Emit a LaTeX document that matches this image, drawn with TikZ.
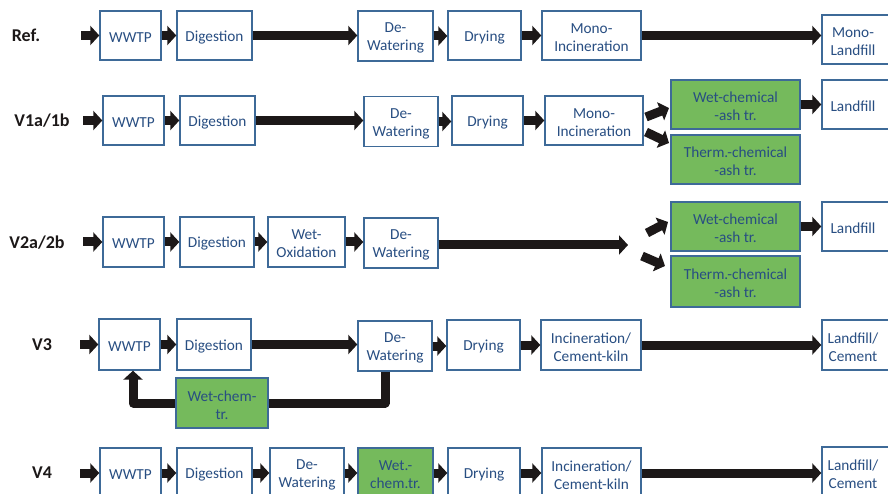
\documentclass[tikz,border=0pt]{standalone}
\usepackage{fontspec}
\setmainfont{Carlito}
\usetikzlibrary{arrows.meta}
\definecolor{bxline}{RGB}{62,106,152}
\definecolor{bxtext}{RGB}{40,78,130}
\definecolor{grn}{RGB}{117,186,92}
\definecolor{arr}{RGB}{28,24,24}
\newcommand\dn[1]{\raisebox{-2pt}[\height][\depth]{#1}}
\newcommand\rl[1]{\hspace*{-6pt}\dn{#1}}
\begin{document}
\begin{tikzpicture}[x=1pt,y=-1pt,
 box/.style={draw=bxline, line width=1.4pt, fill=white, text=bxtext, font=\fontsize{15.3}{18}\selectfont, align=center, inner sep=0pt, minimum height=49pt},
 gbox/.style={box, fill=grn},
 lab/.style={font=\fontsize{18}{21}\selectfont\bfseries, text=arr, inner sep=0pt},
 ar/.style={draw=arr, line width=9pt, -{Triangle[length=9pt,width=19pt]}},
 fb/.style={draw=arr, line width=9pt, line join=round}]
\useasboundingbox (0,0) rectangle (888,494);
\clip (0,0) rectangle (888,494);
\fill[white] (0,0) rectangle (888,494);

% ---------- Ref ----------
\node[lab] (lref) at (26,35) {Ref.};
\coordinate (r0) at (81,35.5);
\node[box,minimum width=61pt] (rW) at (130.5,35.5) {\dn{WWTP}};
\node[box,minimum width=75pt] (rD) at (214.5,35.5) {\dn{Digestion}};
\node[box,minimum width=75pt,minimum height=50pt] (rDW) at (395.5,36) {\dn{De-}\\\dn{Watering}};
\node[box,minimum width=73pt] (rDr) at (484.5,35.5) {\dn{Drying}};
\node[box,minimum width=99pt] (rM) at (591.5,35.5) {\dn{Mono-}\\\dn{Incineration}};
\node[box,minimum width=68pt] (rL) at (856,39.5) {\rl{Mono-}\\\rl{Landfill}};
\draw[ar] (r0) -- (rW.west);
\draw[ar] (rW.east) -- (rD.west);
\draw[ar] (rD.east) -- (rD.east -| rDW.west);
\draw[ar] (rDW.east) -- (rDW.east -| rDr.west);
\draw[ar] (rDr.east) -- (rM.west);
\draw[ar] (rM.east) -- (rM.east -| rL.west);

% ---------- V1a/1b ----------
\node[lab] (l1) at (42,121) {V1a/1b};
\coordinate (v10) at (83,120.5);
\node[box,minimum width=61pt] (v1W) at (133.5,120.5) {\dn{WWTP}};
\node[box,minimum width=75pt] (v1D) at (217.5,120.5) {\dn{Digestion}};
\node[box,minimum width=74pt,minimum height=50pt] (v1DW) at (401,121.5) {\dn{De-}\\\dn{Watering}};
\node[box,minimum width=71pt] (v1Dr) at (487.5,120.5) {\dn{Drying}};
\node[box,minimum width=98pt] (v1M) at (594,120.5) {\dn{Mono-}\\\dn{Incineration}};
\node[gbox,minimum width=129pt] (v1WC) at (735.5,104.5) {\dn{Wet-chemical}\\\dn{-ash tr.}};
\node[gbox,minimum width=129pt] (v1TC) at (735.5,159.5) {\dn{Therm.-chemical}\\\dn{-ash tr.}};
\node[box,minimum width=68pt] (v1L) at (856,104.5) {\rl{Landfill}};
\coordinate (v1a1) at (646,117);
\coordinate (v1a2) at (669,108);
\coordinate (v1b1) at (646,132);
\coordinate (v1b2) at (669,143);
\draw[ar] (v10) -- (v1W.west);
\draw[ar] (v1W.east) -- (v1D.west);
\draw[ar] (v1D.east) -- (v1D.east -| v1DW.west);
\draw[ar] (v1DW.east) -- (v1DW.east -| v1Dr.west);
\draw[ar] (v1Dr.east) -- (v1M.west);
\draw[ar] (v1a1) -- (v1a2);
\draw[ar] (v1b1) -- (v1b2);
\draw[ar] (v1WC.east) -- (v1L.west);

% ---------- V2a/2b ----------
\node[lab] (l2) at (37,243) {V2a/2b};
\coordinate (v20) at (83,242);
\node[box,minimum width=61pt,minimum height=50pt] (v2W) at (133.5,242) {\dn{WWTP}};
\node[box,minimum width=74pt,minimum height=50pt] (v2D) at (217,242) {\dn{Digestion}};
\node[box,minimum width=77pt,minimum height=50pt] (v2WO) at (306.5,242) {\dn{Wet-}\\\dn{Oxidation}};
\node[box,minimum width=74pt,minimum height=50pt] (v2DW) at (401,243) {\dn{De-}\\\dn{Watering}};
\coordinate (v2e) at (628,242);
\node[gbox,minimum width=129pt] (v2WC) at (735.5,226.5) {\dn{Wet-chemical}\\\dn{-ash tr.}};
\node[gbox,minimum width=129pt,minimum height=51pt] (v2TC) at (735.5,281.5) {\dn{Therm.-chemical}\\\dn{-ash tr.}};
\node[box,minimum width=68pt] (v2L) at (856,226.5) {\rl{Landfill}};
\coordinate (v2a1) at (647,233);
\coordinate (v2a2) at (668,222);
\coordinate (v2b1) at (642,256);
\coordinate (v2b2) at (665,266);
\draw[ar] (v20) -- (v2W.west);
\draw[ar] (v2W.east) -- (v2D.west);
\draw[ar] (v2D.east) -- (v2WO.west);
\draw[ar] (v2WO.east) -- (v2WO.east -| v2DW.west);
\draw[ar] ([yshift=-2pt]v2DW.east) -- ([yshift=-2pt]v2DW.east -| v2e);
\draw[ar] (v2a1) -- (v2a2);
\draw[ar] (v2b1) -- (v2b2);
\draw[ar] (v2WC.east) -- (v2L.west);

% ---------- V3 ----------
\node[lab] (l3) at (42,345) {V3};
\coordinate (v30) at (80,344.5);
\node[box,minimum width=61pt,minimum height=51pt] (v3W) at (129.5,344.5) {\dn{WWTP}};
\node[box,minimum width=74pt,minimum height=51pt] (v3D) at (214,344.5) {\dn{Digestion}};
\node[box,minimum width=74pt,minimum height=50pt] (v3DW) at (395,346) {\dn{De-}\\\dn{Watering}};
\node[box,minimum width=73pt,minimum height=50pt] (v3Dr) at (483.5,345) {\dn{Drying}};
\node[box,minimum width=100pt,minimum height=50pt] (v3I) at (591,345) {\dn{Incineration/}\\\dn{Cement-kiln}};
\node[box,minimum width=68pt,minimum height=50pt] (v3L) at (856,345) {\rl{Landfill/}\\\rl{Cement}};
\node[gbox,minimum width=92pt,minimum height=50pt] (v3WC) at (222,403) {\dn{Wet-chem-}\\\dn{tr.}};
\draw[ar] (v30) -- (v3W.west);
\draw[ar] (v3W.east) -- (v3D.west);
\draw[ar] (v3D.east) -- (v3D.east -| v3DW.west);
\draw[ar] (v3DW.east) -- (v3DW.east -| v3Dr.west);
\draw[ar] (v3Dr.east) -- (v3I.west);
\draw[ar] (v3I.east) -- (v3I.east -| v3L.west);
\draw[fb] ([xshift=-10pt]v3DW.south) |- (v3WC.east);
\draw[fb,-{Triangle[length=9pt,width=19pt]}] (v3WC.west) -| ([xshift=3.5pt]v3W.south);

% ---------- V4 ----------
\node[lab] (l4) at (42,473) {V4};
\coordinate (v40) at (80,473);
\node[box,minimum width=61pt,minimum height=50pt] (v4W) at (130.5,473) {\dn{WWTP}};
\node[box,minimum width=75pt,minimum height=50pt] (v4D) at (214.5,473) {\dn{Digestion}};
\node[box,minimum width=74pt,minimum height=50pt] (v4DW) at (307,473) {\dn{De-}\\\dn{Watering}};
\node[gbox,minimum width=75pt,minimum height=50pt] (v4WC) at (395.5,473) {\dn{Wet.-}\\\dn{chem.tr.}};
\node[box,minimum width=72pt,minimum height=50pt] (v4Dr) at (484,473) {\dn{Drying}};
\node[box,minimum width=99pt,minimum height=50pt] (v4I) at (591.5,473) {\dn{Incineration/}\\\dn{Cement-kiln}};
\node[box,minimum width=68pt,minimum height=50pt] (v4L) at (856,472) {\rl{Landfill/}\\\rl{Cement}};
\draw[ar] (v40) -- (v4W.west);
\draw[ar] (v4W.east) -- (v4D.west);
\draw[ar] (v4D.east) -- (v4DW.west);
\draw[ar] (v4DW.east) -- (v4WC.west);
\draw[ar] (v4WC.east) -- (v4Dr.west);
\draw[ar] (v4Dr.east) -- (v4I.west);
\draw[ar] (v4I.east) -- (v4I.east -| v4L.west);
\end{tikzpicture}
\end{document}
